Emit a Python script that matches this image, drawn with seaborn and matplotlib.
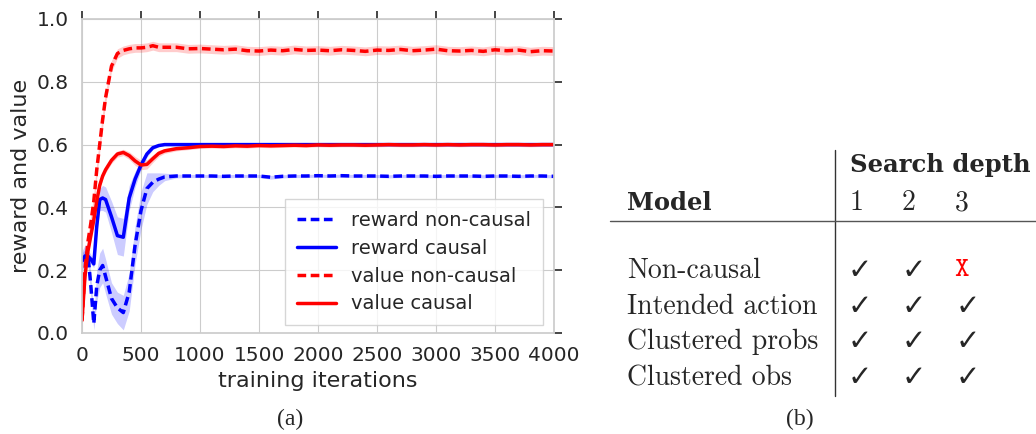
import numpy as np
import pandas as pd
import matplotlib
matplotlib.use("Agg")
import matplotlib.pyplot as plt
from matplotlib.lines import Line2D
import seaborn as sns

# training iterations (dense at the start, coarser on the plateau)
iters = [0, 25, 50, 75, 100, 125, 150, 175, 200, 250, 300, 350, 400, 450, 500,
         550, 600, 650, 700, 800, 900,
         1000, 1100, 1200, 1300, 1400, 1500, 1600, 1700, 1800, 1900, 2000,
         2100, 2200, 2300, 2400, 2500, 2600, 2700, 2800, 2900, 3000,
         3100, 3200, 3300, 3400, 3500, 3600, 3700, 3800, 3900, 4000]

reward_noncausal = [0.23, 0.245, 0.25, 0.15, 0.03, 0.15, 0.20, 0.215, 0.18, 0.11, 0.08,
                    0.065, 0.13, 0.28, 0.39, 0.46, 0.48, 0.49, 0.497, 0.50, 0.50,
                    0.50, 0.50, 0.499, 0.50, 0.50, 0.50, 0.496, 0.499, 0.50, 0.50, 0.501,
                    0.50, 0.501, 0.50, 0.50, 0.50, 0.499, 0.50, 0.50, 0.50, 0.499,
                    0.50, 0.50, 0.50, 0.499, 0.50, 0.50, 0.499, 0.50, 0.50, 0.499]
reward_noncausal_band = [0.03, 0.035, 0.03, 0.035, 0.02, 0.05, 0.055, 0.055, 0.055, 0.05, 0.05,
                         0.055, 0.06, 0.06, 0.06, 0.05, 0.03, 0.02, 0.012, 0.006, 0.005,
                         0.005, 0.005, 0.005, 0.005, 0.005, 0.005, 0.006, 0.005, 0.005, 0.005, 0.005,
                         0.005, 0.005, 0.005, 0.005, 0.005, 0.005, 0.005, 0.005, 0.005, 0.005,
                         0.005, 0.005, 0.005, 0.005, 0.005, 0.005, 0.005, 0.005, 0.005, 0.005]

reward_causal = [0.23, 0.24, 0.245, 0.235, 0.22, 0.34, 0.425, 0.43, 0.425, 0.37, 0.31,
                 0.305, 0.43, 0.49, 0.535, 0.57, 0.59, 0.597, 0.60, 0.60, 0.60,
                 0.60, 0.60, 0.60, 0.60, 0.60, 0.60, 0.60, 0.60, 0.60, 0.60, 0.60,
                 0.60, 0.60, 0.60, 0.60, 0.60, 0.60, 0.60, 0.60, 0.60, 0.60,
                 0.60, 0.60, 0.60, 0.60, 0.60, 0.60, 0.60, 0.60, 0.60, 0.60]
reward_causal_band = [0.025, 0.025, 0.02, 0.015, 0.012, 0.025, 0.035, 0.04, 0.04, 0.05, 0.06,
                      0.06, 0.04, 0.025, 0.015, 0.01, 0.006, 0.004, 0.003, 0.003, 0.003,
                      0.003, 0.003, 0.003, 0.003, 0.003, 0.003, 0.003, 0.003, 0.003, 0.003, 0.003,
                      0.003, 0.003, 0.003, 0.003, 0.003, 0.003, 0.003, 0.003, 0.003, 0.003,
                      0.003, 0.003, 0.003, 0.003, 0.003, 0.003, 0.003, 0.003, 0.003, 0.003]

value_noncausal = [0.04, 0.20, 0.29, 0.35, 0.42, 0.52, 0.60, 0.68, 0.75, 0.85, 0.89,
                   0.90, 0.905, 0.908, 0.908, 0.91, 0.915, 0.91, 0.91, 0.91, 0.905,
                   0.906, 0.904, 0.902, 0.904, 0.899, 0.898, 0.901, 0.899, 0.903, 0.90, 0.901,
                   0.899, 0.902, 0.90, 0.897, 0.901, 0.90, 0.903, 0.899, 0.901, 0.904,
                   0.899, 0.898, 0.90, 0.897, 0.902, 0.899, 0.901, 0.896, 0.899, 0.898]
value_noncausal_band = [0.015, 0.025, 0.025, 0.025, 0.025, 0.025, 0.025, 0.025, 0.02, 0.018, 0.015,
                        0.014, 0.014, 0.014, 0.014, 0.014, 0.014, 0.014, 0.014, 0.014, 0.014,
                        0.014, 0.014, 0.014, 0.014, 0.014, 0.014, 0.014, 0.014, 0.014, 0.014, 0.014,
                        0.014, 0.014, 0.014, 0.014, 0.014, 0.014, 0.014, 0.014, 0.014, 0.014,
                        0.014, 0.014, 0.014, 0.014, 0.014, 0.014, 0.014, 0.014, 0.014, 0.014]

value_causal = [0.04, 0.18, 0.26, 0.31, 0.36, 0.42, 0.47, 0.50, 0.52, 0.55, 0.57,
                0.575, 0.565, 0.548, 0.535, 0.537, 0.555, 0.572, 0.58, 0.587, 0.59,
                0.594, 0.595, 0.594, 0.596, 0.595, 0.597, 0.596, 0.597, 0.598, 0.597, 0.599,
                0.598, 0.599, 0.599, 0.598, 0.599, 0.60, 0.599, 0.599, 0.60, 0.599,
                0.60, 0.599, 0.60, 0.60, 0.599, 0.60, 0.60, 0.599, 0.60, 0.60]
value_causal_band = [0.012, 0.012, 0.012, 0.012, 0.012, 0.012, 0.01, 0.01, 0.01, 0.01, 0.01,
                     0.01, 0.012, 0.014, 0.015, 0.015, 0.012, 0.01, 0.008, 0.007, 0.006,
                     0.006, 0.006, 0.006, 0.006, 0.006, 0.006, 0.006, 0.006, 0.006, 0.006, 0.006,
                     0.006, 0.006, 0.006, 0.006, 0.006, 0.006, 0.006, 0.006, 0.006, 0.006,
                     0.006, 0.006, 0.006, 0.006, 0.006, 0.006, 0.006, 0.006, 0.006, 0.006]

series_names = ["reward non-causal", "reward causal", "value non-causal", "value causal"]
series_values = [reward_noncausal, reward_causal, value_noncausal, value_causal]
series_bands = [reward_noncausal_band, reward_causal_band, value_noncausal_band, value_causal_band]
colors = {"reward non-causal": "#0000ff", "reward causal": "#0000ff",
          "value non-causal": "#ff0000", "value causal": "#ff0000"}
dash_map = {"reward non-causal": (2.5, 1.3), "reward causal": "",
            "value non-causal": (2.5, 1.3), "value causal": ""}

# table on the right
table_rows = ["Non-causal", "Intended action", "Clustered probs", "Clustered obs"]
table_depths = ["1", "2", "3"]
table_ok = [[True, True, False], [True, True, True], [True, True, True], [True, True, True]]

frames = []
for name, vals in zip(series_names, series_values):
    frames.append(pd.DataFrame({"iter": iters, "val": vals, "series": name}))
df = pd.concat(frames, ignore_index=True)

sns.set_style("whitegrid")
plt.rcParams["font.family"] = ["DejaVu Sans"]

fig = plt.figure(figsize=(10.36, 4.34), dpi=100)
ax = fig.add_axes([82 / 1036, 1 - 333 / 434, (554 - 82) / 1036, (333 - 19) / 434])

for name, vals, band in zip(series_names, series_values, series_bands):
    v = np.array(vals)
    b = np.array(band)
    ax.fill_between(iters, v - b, v + b, color=colors[name], alpha=0.2, linewidth=0)

sns.lineplot(data=df, x="iter", y="val", hue="series", style="series",
             hue_order=series_names, style_order=series_names,
             palette=colors, dashes=dash_map, linewidth=2.5, ax=ax)

ax.set_xlim(0, 4000)
ax.set_ylim(0, 1.0)
ax.set_xticks(np.arange(0, 4001, 500))
ax.set_yticks(np.arange(0, 1.01, 0.2))
ax.set_xlabel("training iterations", fontsize=16, color=".15")
ax.set_ylabel("reward and value", fontsize=16, color=".15")
ax.tick_params(direction="out", top=True, right=True, length=6, width=1.2,
               color=".15", labelsize=14.5, labelcolor=".15")
for sp in ax.spines.values():
    sp.set_color(".8")
    sp.set_linewidth(1.25)

handles, labels = ax.get_legend_handles_labels()
leg = ax.legend(handles, labels, loc="lower right", fontsize=14, fancybox=False,
                frameon=True, handlelength=2.0, borderpad=0.6, labelspacing=0.45,
                borderaxespad=0, bbox_to_anchor=(1 - 11 / 472, 8 / 314))
leg.get_frame().set_edgecolor(".8")
for h in leg.get_lines():
    h.set_linewidth(2.5)

# captions
fig.text(290 / 1036, 1 - 419 / 434, "(a)", family="Liberation Serif", fontsize=17,
         ha="center", va="center")
fig.text(800 / 1036, 1 - 419 / 434, "(b)", family="Liberation Serif", fontsize=17,
         ha="center", va="center")

# table drawn as text
def fx(px):
    return px / 1036

def fy(py):
    return 1 - py / 434

fs = 20
fig.text(fx(850), fy(165), "Search depth", family="DejaVu Serif", weight="bold",
         fontsize=17.5, ha="left", va="center")
fig.text(fx(627), fy(203), "Model", family="DejaVu Serif", weight="bold",
         fontsize=17.5, ha="left", va="center")
depth_x = [857, 909, 962]
for dx, d in zip(depth_x, table_depths):
    fig.text(fx(dx), fy(203), d, family="cmr10", fontsize=fs, ha="center", va="center")

row_y = [271, 307, 342, 378]
check_x = [860, 914, 968]
for ry, name, oks in zip(row_y, table_rows, table_ok):
    fig.text(fx(627), fy(ry), name, family="cmr10", fontsize=fs, ha="left", va="center")
    for cx, ok in zip(check_x, oks):
        if ok:
            fig.text(fx(cx), fy(ry), "\u2713", family="DejaVu Sans", fontsize=21,
                     ha="center", va="center")
        else:
            fig.text(fx(cx - 6), fy(ry), "X", family="cmtt10", fontsize=fs,
                     ha="center", va="center", color="#ff0000")

fig.add_artist(Line2D([fx(835), fx(835)], [fy(150), fy(396)], transform=fig.transFigure,
                      color="#333333", linewidth=1.0))
fig.add_artist(Line2D([fx(610), fx(1036)], [fy(221), fy(221)], transform=fig.transFigure,
                      color="#555555", linewidth=1.0))

fig.savefig("out.png", dpi=100)
